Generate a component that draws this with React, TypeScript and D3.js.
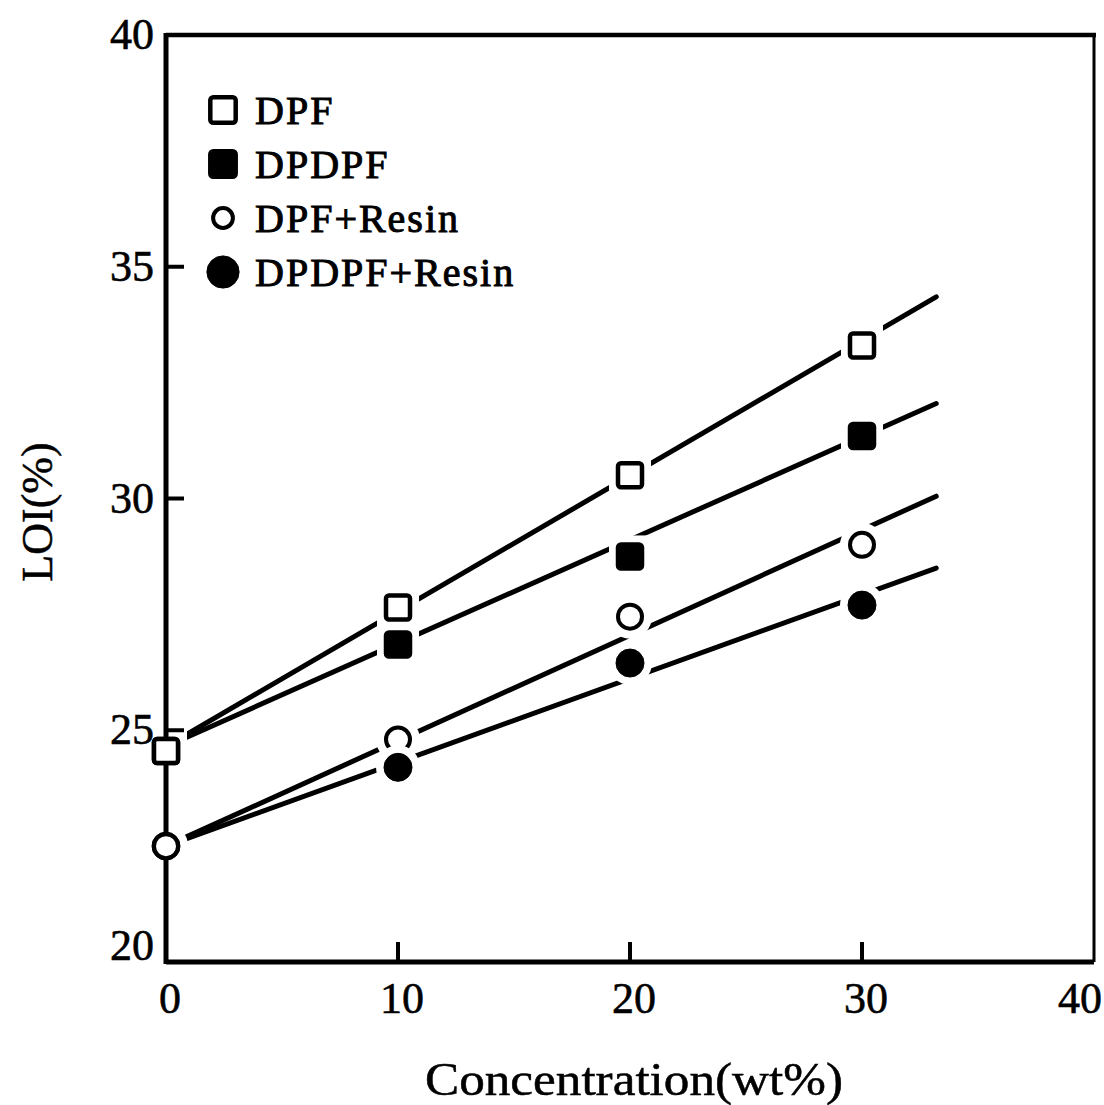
import * as d3 from "d3";

// values
const concentration = [0, 10, 20, 30];
const dpf = [24.55, 27.65, 30.5, 33.3];
const dpdpf = [24.55, 26.85, 28.75, 31.35];
const dpfResin = [22.5, 24.8, 27.45, 29.0];
const dpdpfResin = [22.5, 24.2, 26.45, 27.7];

// fitted straight lines: start and end of each
const fitX = [0, 33.2];
const fitDpf = [24.65, 34.35];
const fitDpdpf = [24.65, 32.05];
const fitDpfResin = [22.5, 30.05];
const fitDpdpfResin = [22.5, 28.5];

const seriesNames = ["DPF", "DPDPF", "DPF+Resin", "DPDPF+Resin"];
const xTicks = [0, 10, 20, 30, 40];
const yTicks = [20, 25, 30, 35, 40];

const W = 1104;
const H = 1105;
const x = d3.scaleLinear().domain([0, 40]).range([166, 1094]);
const y = d3.scaleLinear().domain([20, 40]).range([962, 35]);

const font = "'Liberation Serif', 'DejaVu Serif', serif";

type Kind = "sq" | "sqf" | "ci" | "cif";
const kinds: Kind[] = ["sq", "sqf", "ci", "cif"];
const values = [dpf, dpdpf, dpfResin, dpdpfResin];
const fits = [fitDpf, fitDpdpf, fitDpfResin, fitDpdpfResin];

const Marker = ({ kind, cx, cy, size = 1, halo = true }: { kind: Kind; cx: number; cy: number; size?: number; halo?: boolean }) => {
  const s = 14 * size;
  const r = 14 * size;
  if (kind === "sq" || kind === "sqf") {
    return (
      <g>
        {halo && <rect x={cx - s - 7} y={cy - s - 7} width={2 * s + 14} height={2 * s + 14} fill="#fff" />}
        <rect
          x={cx - s + 2}
          y={cy - s + 2}
          width={2 * s - 4}
          height={2 * s - 4}
          rx={3}
          fill={kind === "sqf" ? "#000" : "#fff"}
          stroke="#000"
          strokeWidth={4.5}
        />
      </g>
    );
  }
  return (
    <g>
      {halo && <circle cx={cx} cy={cy} r={r + 8} fill="#fff" />}
      <circle cx={cx} cy={cy} r={kind === "cif" ? r : r - 2} fill={kind === "cif" ? "#000" : "#fff"} stroke="#000" strokeWidth={kind === "cif" ? 1 : 4} />
    </g>
  );
};

export default function App() {
  const line = d3
    .line<number>()
    .x((_, i) => x(fitX[i]))
    .y((d) => y(d));

  return (
    <svg width={W} height={H} style={{ position: "absolute", left: 0, top: 0, background: "#fff" }} fontFamily={font}>
      {/* frame */}
      <line x1={x(0)} x2={x(40) + 2} y1={y(40)} y2={y(40)} stroke="#000" strokeWidth={4.5} />
      <line x1={x(40)} x2={x(40)} y1={y(40)} y2={y(20)} stroke="#000" strokeWidth={3} />

      {/* fit lines */}
      {fits.map((f, i) => (
        <path key={i} d={line(f) ?? ""} fill="none" stroke="#000" strokeWidth={5} strokeLinecap="round" />
      ))}

      {/* points */}
      {values.map((vals, i) =>
        vals.map((v, j) => <Marker key={`${i}-${j}`} kind={kinds[i]} cx={x(concentration[j])} cy={y(v)} />)
      )}

      {/* axes */}
      <line x1={x(0)} x2={x(0)} y1={y(40) - 2} y2={y(20) + 2} stroke="#000" strokeWidth={5} />
      <line x1={x(0)} x2={x(40)} y1={y(20)} y2={y(20)} stroke="#000" strokeWidth={5} />
      {yTicks.slice(1, 4).map((t) => (
        <line key={t} x1={x(0)} x2={x(0) + 18} y1={y(t)} y2={y(t)} stroke="#000" strokeWidth={4} />
      ))}
      {xTicks.slice(1, 4).map((t) => (
        <line key={t} x1={x(t)} x2={x(t)} y1={y(20)} y2={y(20) - 20} stroke="#000" strokeWidth={4} />
      ))}
      {/* redraw markers sitting on the y axis */}
      {values.map((vals, i) => (i === 0 || i === 2 ? <Marker key={`a${i}`} kind={kinds[i]} cx={x(0)} cy={y(vals[0])} halo={false} /> : null))}

      {/* tick labels */}
      <g stroke="#000" strokeWidth={0.6}>
        {yTicks.map((t) => (
          <text key={t} x={x(0) - 12} y={y(t) + (t === 20 ? -2 : 14)} fontSize={44} textAnchor="end">
            {t}
          </text>
        ))}
        {xTicks.map((t) => (
          <text key={t} x={t === 40 ? x(t) - 14 : x(t) + 4} y={1013} fontSize={44} textAnchor="middle">
            {t}
          </text>
        ))}
      </g>

      {/* axis titles */}
      <text x={634} y={1095} fontSize={46} textAnchor="middle" textLength={418} lengthAdjust="spacingAndGlyphs" stroke="#000" strokeWidth={0.5}>
        Concentration(wt%)
      </text>
      <text transform="translate(52,512) rotate(-90)" fontSize={44} textAnchor="middle" stroke="#000" strokeWidth={0.5}>
        LOI(%)
      </text>

      {/* legend */}
      {seriesNames.map((name, i) => {
        const ly = 110 + i * 54;
        const size = kinds[i] === "ci" ? 0.85 : kinds[i] === "cif" ? 1.15 : 1.05;
        return (
          <g key={name}>
            <Marker kind={kinds[i]} cx={223} cy={ly} size={size} halo={false} />
            <text x={255} y={ly + 14} fontSize={40} letterSpacing={2} stroke="#000" strokeWidth={1}>
              {name}
            </text>
          </g>
        );
      })}
    </svg>
  );
}
